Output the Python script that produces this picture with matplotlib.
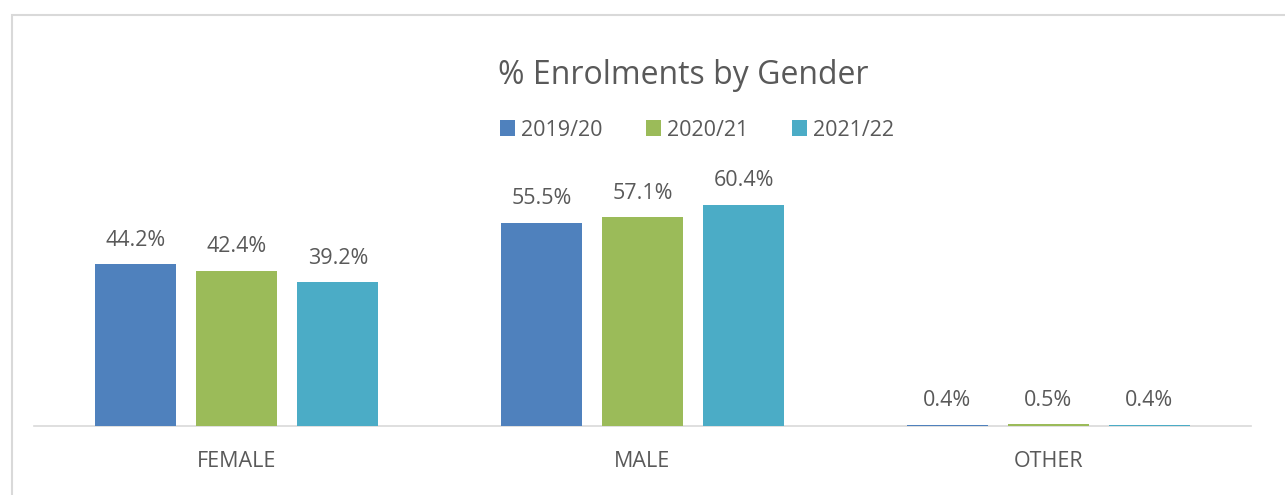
import numpy as np
import matplotlib.pyplot as plt
from matplotlib.patches import Rectangle

categories = ['FEMALE', 'MALE', 'OTHER']
years = ['2019/20', '2020/21', '2021/22']
pct_1920 = [44.2, 55.5, 0.4]
pct_2021 = [42.4, 57.1, 0.5]
pct_2122 = [39.2, 60.4, 0.4]
colors = ['#4F81BD', '#9BBB59', '#4BACC6']

plt.rcParams['font.family'] = ['Open Sans', 'DejaVu Sans']
txt = '#595959'

W, H = 1285, 495
fig = plt.figure(figsize=(W/100, H/100), dpi=100)
# axes placed in pixel coords: x 34..1251, y 169.5..426
ax = fig.add_axes([34/W, 1-426/H, (1251-34)/W, (426-169.5)/H])

x = np.arange(len(categories))
step = 0.249
width = 0.2
for i, (vals, lab) in enumerate(zip([pct_1920, pct_2021, pct_2122], years)):
    pos = x + (i-1)*step
    bars = ax.bar(pos, vals, width, color=colors[i], label=lab, zorder=2)
    for b, v in zip(bars, vals):
        ax.text(b.get_x()+b.get_width()/2, v+3.6, '%.1f%%' % v, ha='center', va='bottom',
                fontsize=15.5, color=txt)

ax.set_xlim(-0.5, 2.5)
ax.set_ylim(0, 70)
ax.set_yticks([])
ax.set_xticks(x)
ax.set_xticklabels(categories, fontsize=15.5, color=txt)
ax.tick_params(axis='x', length=0, pad=18)
for s in ['top', 'right', 'left']:
    ax.spines[s].set_visible(False)
ax.spines['bottom'].set_color('#D9D9D9')
ax.spines['bottom'].set_linewidth(1.2)
ax.spines['bottom'].set_zorder(1)

fig.text(683/W, 1-76/H, '% Enrolments by Gender', ha='center', va='center', fontsize=23, color=txt)
fig.legend(loc='center', bbox_to_anchor=(697/W, 1-130/H), ncol=3, frameon=False,
           fontsize=15.5, labelcolor=txt, handlelength=0.7, handleheight=0.7,
           handletextpad=0.3, columnspacing=2.0)

# chart border (cut off at right and bottom)
fig.patches.append(Rectangle((12/W, -0.05), 1.1, 1-15/H+0.05, transform=fig.transFigure,
                             fill=False, edgecolor='#D9D9D9', linewidth=1.5))

fig.savefig('out.png', dpi=100)
